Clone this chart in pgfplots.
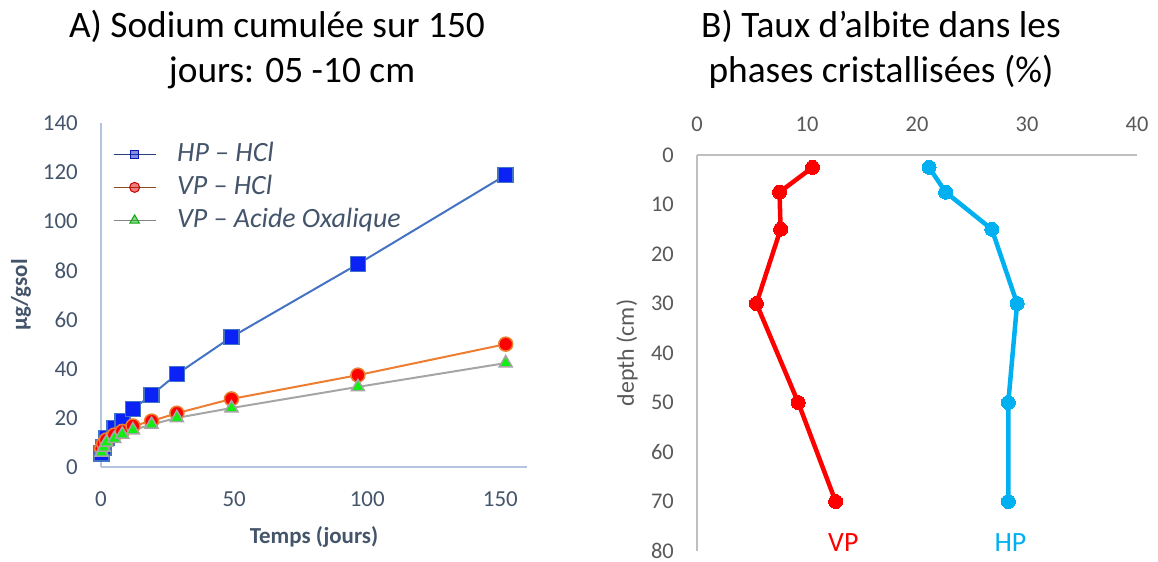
\documentclass[border=0pt]{standalone}
\usepackage{fontspec}
\setmainfont{Carlito}
\usepackage{pgfplots}
\pgfplotsset{compat=1.18}

\definecolor{txtblue}{HTML}{44546A}
\definecolor{axisblue}{HTML}{B4C3E0}
\definecolor{hpline}{HTML}{4472C4}
\definecolor{hpfill}{HTML}{0A22F5}
\definecolor{vpline}{HTML}{ED7D31}
\definecolor{vpfill}{HTML}{FF0000}
\definecolor{oxline}{HTML}{A5A5A5}
\definecolor{oxfill}{HTML}{11EE11}
\definecolor{vpred}{HTML}{FF0000}
\definecolor{hpcyan}{HTML}{00B0F0}
\definecolor{grayaxis}{HTML}{BFBFBF}
\definecolor{graytext}{HTML}{595959}

\begin{document}
\begin{tikzpicture}
\path[use as bounding box] (0bp,0bp) rectangle (1158bp,-562bp);

% titles
\node[anchor=base, font=\fontsize{37.5}{45}\selectfont] at (277bp,-37bp) {A) Sodium cumulée sur 150};
\node[anchor=base, font=\fontsize{37.5}{45}\selectfont] at (292bp,-82bp) {jours: 05 -10 cm};
\node[anchor=base, font=\fontsize{37.5}{45}\selectfont] at (881bp,-37bp) {B) Taux d’albite dans les};
\node[anchor=base, font=\fontsize{37.5}{45}\selectfont] at (881bp,-82bp) {phases cristallisées (\%)};

% A) cumulative sodium
\begin{axis}[
  at={(101bp,-467bp)}, anchor=south west,
  width=426bp, height=344bp, scale only axis,
  xmin=0, xmax=160, ymin=0, ymax=140,
  axis x line*=bottom, axis y line*=left,
  axis line style={draw=axisblue, line width=1.5bp, -},
  xtick={0,50,100,150}, ytick={0,20,...,140},
  major tick length=0pt,
  /pgf/number format/assume math mode=true,
  tick label style={font=\fontsize{23}{27}\selectfont, text=txtblue, inner sep=0pt},
  xticklabel style={anchor=base, yshift=-39bp},
  yticklabel style={anchor=east, xshift=-23bp},
  xlabel={Temps (jours)},
  ylabel={µg/gsol},
  every axis x label/.style={at={(axis description cs:0.5,0)}, anchor=base, yshift=-76bp,
    font=\bfseries\fontsize{23}{27}\selectfont, text=txtblue},
  every axis y label/.style={at={(axis description cs:-0.188,0.5)}, anchor=center, rotate=90,
    font=\bfseries\fontsize{23}{27}\selectfont, text=txtblue},
  clip=false,
  legend cell align=left,
  legend style={draw=none, fill=white, fill opacity=0.5, text opacity=1,
    inner sep=0pt, column sep=0pt, row sep=3bp,
    at={(axis description cs:0.028,0.953)}, anchor=north west,
    font=\itshape\fontsize{28}{33}\selectfont, text=txtblue,
    nodes={inner sep=2bp, text height=20bp, text depth=6bp}},
  legend image code/.code={
    \draw[#1, mark=none] (0bp,0bp) -- (42bp,0bp);
    \draw[#1, only marks] plot coordinates {(21bp,0bp)};
    \path (61bp,0bp);},
]
\addplot[hpline, line width=2bp, mark=square*, mark size=7.5bp,
  mark options={draw=hpline, fill=hpfill, line width=1.5bp}, forget plot] coordinates {
  (0.25,5.5) (1,8) (2,11.8) (5,15.9) (8,18.7) (12,23.6) (19,29.3)
  (28.5,37.8) (49,52.9) (96.5,82.6) (152,118.8)
};
\addplot[vpline, line width=2bp, mark=*, mark size=7bp,
  mark options={draw=vpline, fill=vpfill, line width=1.5bp}, forget plot] coordinates {
  (0.25,7.5) (1,9.5) (2,11) (5,13) (8,14.5) (12,16.7) (19,18.7)
  (28.5,21.9) (49,27.7) (96.5,37.4) (152,50)
};
\addplot[oxline, line width=2bp, mark=triangle*, mark size=7.5bp,
  mark options={draw=oxline, fill=oxfill, line width=1.5bp}, forget plot] coordinates {
  (0.25,6) (1,8) (2,10) (5,11.5) (8,13.3) (12,15) (19,17.3)
  (28.5,20) (49,24) (96.5,32.6) (152,42.3)
};
\addlegendimage{hpline!60!black, line width=1bp, mark=square*, mark size=4bp,
  mark options={draw=hpfill!70!black, fill=hpfill!80!black}}
\addlegendentry{HP – HCl}
\addlegendimage{vpline!60!black, line width=1bp, mark=*, mark size=5bp,
  mark options={draw=vpfill!80!black, fill=vpfill!85!black}}
\addlegendentry{VP – HCl}
\addlegendimage{oxline!80!black, line width=1bp, mark=triangle*, mark size=5.5bp,
  mark options={draw=oxfill!70!black, fill=oxfill!75!black}}
\addlegendentry{VP – Acide Oxalique}
\end{axis}

% B) albite content vs depth
\begin{axis}[
  at={(697bp,-155bp)}, anchor=north west,
  width=440bp, height=396bp, scale only axis,
  xmin=0, xmax=40, ymin=0, ymax=80,
  y dir=reverse,
  axis x line*=top, axis y line*=left,
  axis line style={draw=grayaxis, line width=1.5bp, -},
  xtick={0,10,...,40}, ytick={0,10,...,80},
  major tick length=0pt,
  /pgf/number format/assume math mode=true,
  tick label style={font=\fontsize{22.5}{26}\selectfont, text=graytext, inner sep=0pt},
  xticklabel style={anchor=base, yshift=24bp},
  yticklabel style={anchor=east, xshift=-23bp},
  ylabel={depth (cm)},
  every axis y label/.style={at={(axis description cs:-0.159,0.5)}, anchor=center, rotate=90,
    font=\fontsize{24}{28}\selectfont, text=graytext},
  clip=false,
]
\addplot[vpred, line width=4.5bp, mark=*, mark size=7bp,
  mark options={fill=vpred, draw=vpred, line width=0pt}] coordinates {
  (10.5,2.5) (7.5,7.5) (7.6,15) (5.4,30) (9.2,50) (12.6,70)
};
\addplot[hpcyan, line width=4.5bp, mark=*, mark size=7bp,
  mark options={fill=hpcyan, draw=hpcyan, line width=0pt}] coordinates {
  (21.1,2.5) (22.6,7.5) (26.8,15) (29.1,30) (28.3,50) (28.3,70)
};
\node[text=vpred, font=\fontsize{28}{33}\selectfont] at (axis cs:13.3,78.3) {VP};
\node[text=hpcyan, font=\fontsize{28}{33}\selectfont] at (axis cs:28.5,78.3) {HP};
\end{axis}
\end{tikzpicture}
\end{document}
